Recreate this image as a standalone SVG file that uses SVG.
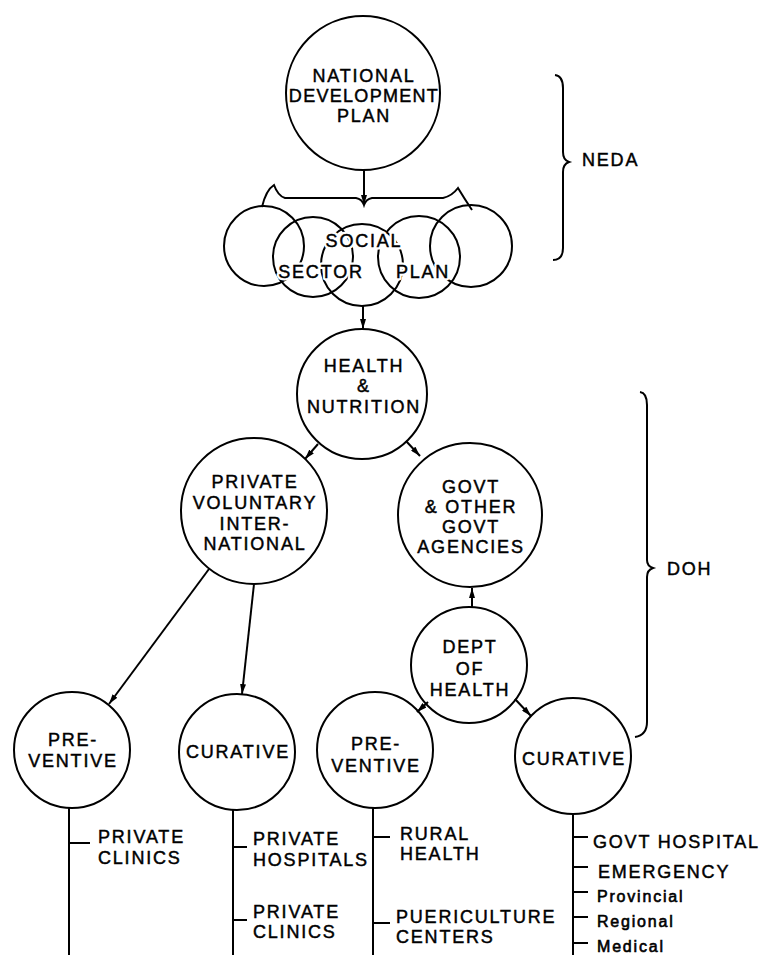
<svg xmlns="http://www.w3.org/2000/svg" width="765" height="955" viewBox="0 0 765 955">
<style>
.c{fill:none;stroke:#000;stroke-width:2}
.ln{fill:none;stroke:#000;stroke-width:2}
text{font-family:"Liberation Sans",Arial,Helvetica,sans-serif;font-size:18px;letter-spacing:1.8px;fill:#000;stroke:#000;stroke-width:0.45px}
.m{text-anchor:middle}
.h{fill:#fff;stroke:#fff;stroke-width:5px;stroke-linejoin:round}
.s{font-size:16px;letter-spacing:1.8px;stroke-width:0.6px}
</style>
<defs>
<marker id="ah" viewBox="0 0 10 6" refX="10" refY="3" markerWidth="10" markerHeight="6" markerUnits="userSpaceOnUse" orient="auto">
<path d="M0,0 L10,3 L0,6 z" fill="#000"/>
</marker>
</defs>
<rect width="765" height="955" fill="#fff"/>

<g id="national">
<circle class="c" cx="363" cy="93" r="77"/>
<text class="m" x="364" y="82">NATIONAL</text>
<text class="m" x="364" y="102" style="letter-spacing:1.3px">DEVELOPMENT</text>
<text class="m" x="364" y="122">PLAN</text>
</g>

<g id="social">
<circle class="c" cx="264" cy="246" r="40"/>
<circle class="c" cx="313" cy="257" r="40"/>
<circle class="c" cx="362" cy="265" r="41"/>
<circle class="c" cx="419" cy="257" r="41"/>
<circle class="c" cx="471" cy="246" r="41"/>
<text class="m h" x="364" y="247">SOCIAL</text>
<text class="m h" x="321" y="278">SECTOR</text>
<text class="m h" x="423" y="278">PLAN</text>
<text class="m" x="364" y="247">SOCIAL</text>
<text class="m" x="321" y="278">SECTOR</text>
<text class="m" x="423" y="278">PLAN</text>
</g>

<g id="health">
<circle class="c" cx="362" cy="394" r="65"/>
<text class="m" x="364" y="372">HEALTH</text>
<text class="m" x="364" y="392">&amp;</text>
<text class="m" x="364" y="413">NUTRITION</text>
</g>

<g id="private">
<circle class="c" cx="254" cy="511" r="73"/>
<text class="m" x="255" y="488">PRIVATE</text>
<text class="m" x="255" y="509">VOLUNTARY</text>
<text class="m" x="255" y="530">INTER-</text>
<text class="m" x="255" y="550">NATIONAL</text>
</g>

<g id="govt">
<circle class="c" cx="470" cy="515" r="72"/>
<text class="m" x="471" y="493">GOVT</text>
<text class="m" x="471" y="513">&amp; OTHER</text>
<text class="m" x="471" y="533">GOVT</text>
<text class="m" x="471" y="553">AGENCIES</text>
</g>

<g id="dept">
<circle class="c" cx="469" cy="665" r="58"/>
<text class="m" x="470" y="653">DEPT</text>
<text class="m" x="470" y="675">OF</text>
<text class="m" x="470" y="696">HEALTH</text>
</g>

<g id="preventive-private">
<circle class="c" cx="72" cy="750" r="58"/>
<text class="m" x="73" y="746">PRE-</text>
<text class="m" x="73" y="767">VENTIVE</text>
</g>

<g id="curative-private">
<circle class="c" cx="237" cy="752" r="58"/>
<text class="m" x="238" y="758">CURATIVE</text>
</g>

<g id="preventive-govt">
<circle class="c" cx="375" cy="750" r="58"/>
<text class="m" x="376" y="750">PRE-</text>
<text class="m" x="376" y="772">VENTIVE</text>
</g>

<g id="curative-govt">
<circle class="c" cx="573" cy="756" r="58"/>
<text class="m" x="574" y="765">CURATIVE</text>
</g>

<g id="neda">
<path class="ln" d="M555,75 Q563,76 563,88 L563,152 Q563,160 569,162 Q563,164 563,172 L563,248 Q563,260 553,260"/>
<text x="582" y="166">NEDA</text>
</g>

<g id="doh">
<path class="ln" d="M640,392 Q647,393 647,405 L647,560 Q647,566 653,568 Q647,570 647,577 L647,722 Q647,735 635,737"/>
<text x="667" y="575">DOH</text>
</g>

<g id="connectors">
<line class="ln" x1="364" y1="170" x2="364" y2="205" marker-end="url(#ah)"/>
<path class="ln" d="M262,207 Q266,190 274,185 Q278,196 285,198 L356,198 Q362,199 364,205 Q366,199 372,198 L443,198 Q452,196 458,188 Q464,198 472,210"/>
<line class="ln" x1="363" y1="306" x2="363" y2="329" marker-end="url(#ah)"/>
<line class="ln" x1="318" y1="444" x2="305" y2="459" marker-end="url(#ah)"/>
<line class="ln" x1="406" y1="441" x2="420" y2="456" marker-end="url(#ah)"/>
<line class="ln" x1="472" y1="607" x2="472" y2="588" marker-end="url(#ah)"/>
<line class="ln" x1="428" y1="702" x2="417" y2="712" marker-end="url(#ah)"/>
<line class="ln" x1="515" y1="699" x2="531" y2="716" marker-end="url(#ah)"/>
<line class="ln" x1="209" y1="569" x2="109" y2="704" marker-end="url(#ah)"/>
<line class="ln" x1="254" y1="584" x2="242" y2="694" marker-end="url(#ah)"/>
</g>

<g id="list-preventive-private">
<line class="ln" x1="69" y1="808" x2="69" y2="955"/>
<line class="ln" x1="69" y1="843" x2="90" y2="843"/>
<text x="98" y="843">PRIVATE</text>
<text x="98" y="864">CLINICS</text>
</g>

<g id="list-curative-private">
<line class="ln" x1="233" y1="810" x2="233" y2="955"/>
<line class="ln" x1="233" y1="847" x2="247" y2="847"/>
<line class="ln" x1="233" y1="920" x2="247" y2="920"/>
<text x="253" y="845">PRIVATE</text>
<text x="253" y="866">HOSPITALS</text>
<text x="253" y="918">PRIVATE</text>
<text x="253" y="938">CLINICS</text>
</g>

<g id="list-preventive-govt">
<line class="ln" x1="373" y1="808" x2="373" y2="955"/>
<line class="ln" x1="373" y1="837" x2="390" y2="837"/>
<line class="ln" x1="373" y1="923" x2="390" y2="923"/>
<text x="400" y="840">RURAL</text>
<text x="400" y="860">HEALTH</text>
<text x="396" y="923">PUERICULTURE</text>
<text x="396" y="943">CENTERS</text>
</g>

<g id="list-curative-govt">
<line class="ln" x1="573" y1="814" x2="573" y2="955"/>
<line class="ln" x1="573" y1="837" x2="588" y2="837"/>
<line class="ln" x1="573" y1="867" x2="588" y2="867"/>
<line class="ln" x1="573" y1="892" x2="588" y2="892"/>
<line class="ln" x1="573" y1="917" x2="588" y2="917"/>
<line class="ln" x1="573" y1="943" x2="588" y2="943"/>
<text x="593" y="848">GOVT HOSPITAL</text>
<text x="598" y="878">EMERGENCY</text>
<text class="s" x="597" y="902">Provincial</text>
<text class="s" x="597" y="927">Regional</text>
<text class="s" x="597" y="952">Medical</text>
</g>
</svg>
